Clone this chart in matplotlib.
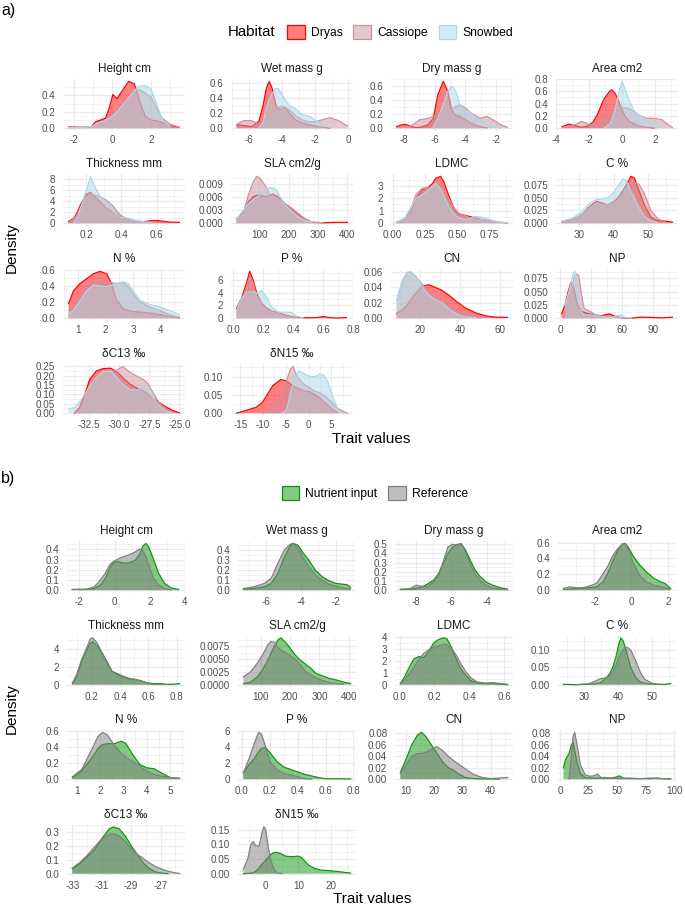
import numpy as np
import matplotlib
matplotlib.use('Agg')
import matplotlib.pyplot as plt
from matplotlib.patches import Patch
from matplotlib.colors import to_rgba

plt.rcParams['font.family'] = ['Liberation Sans', 'DejaVu Sans']

# ---------------- a) habitat densities ----------------
A_HEIGHT_X = [-2.27, -1.5, -1.1, -0.85, -0.6, -0.35, -0.15, 0.03, 0.25, 0.5, 0.85, 1.15, 1.4, 1.7, 2.0, 2.3, 2.6, 3.0, 3.49]
A_HEIGHT_DRYAS = [0.015, 0.01, 0.02, 0.08, 0.1, 0.12, 0.25, 0.41, 0.36, 0.45, 0.57, 0.54, 0.35, 0.15, 0.1, 0.09, 0.07, 0.03, 0.01]
A_HEIGHT_CASS = [0.01, 0.01, 0.02, 0.05, 0.07, 0.1, 0.12, 0.15, 0.2, 0.26, 0.36, 0.45, 0.47, 0.43, 0.38, 0.25, 0.12, 0.05, 0.01]
A_HEIGHT_SNOW = [0.005, 0.005, 0.02, 0.05, 0.07, 0.1, 0.12, 0.15, 0.2, 0.27, 0.37, 0.46, 0.51, 0.52, 0.48, 0.3, 0.1, 0.02, None]

A_WET_X = [-6.75, -6.3, -5.85, -5.4, -5.15, -4.95, -4.78, -4.6, -4.4, -4.25, -4.05, -3.8, -3.55, -3.2, -2.8, -2.4, -2.0, -1.6, -1.1, -0.6, -0.05]
A_WET_DRYAS = [0.045, 0.035, 0.02, 0.09, 0.3, 0.53, 0.62, 0.53, 0.33, 0.25, 0.25, 0.27, 0.2, 0.11, 0.07, 0.045, 0.03, 0.013, 0.004, None, None]
A_WET_CASS = [0.05, 0.1, 0.1, 0.05, 0.065, 0.1, 0.15, 0.19, 0.24, 0.27, 0.29, 0.28, 0.24, 0.17, 0.11, 0.085, 0.085, 0.11, 0.14, 0.1, 0.03]
A_WET_SNOW = [None, None, None, 0.0, 0.08, 0.26, 0.38, 0.46, 0.52, 0.53, 0.46, 0.37, 0.3, 0.26, 0.18, 0.16, 0.11, 0.045, 0.01, None, None]

A_DRY_X = [-8.5, -8.0, -7.64, -7.3, -7.0, -6.45, -6.1, -5.8, -5.45, -5.15, -4.9, -4.62, -4.35, -4.0, -3.7, -3.4, -3.0, -2.6, -2.2, -1.7, -1.25]
A_DRY_DRYAS = [0.024, 0.058, 0.034, 0.01, 0.01, 0.048, 0.14, 0.48, 0.67, 0.53, 0.26, 0.18, 0.17, 0.12, 0.08, 0.05, 0.02, 0.006, None, None, None]
A_DRY_CASS = [0.01, 0.015, 0.025, 0.07, 0.12, 0.14, 0.17, 0.19, 0.22, 0.25, 0.27, 0.31, 0.33, 0.29, 0.23, 0.19, 0.14, 0.17, 0.12, 0.05, 0.01]
A_DRY_SNOW = [None, None, None, None, None, None, 0.01, 0.14, 0.34, 0.53, 0.6, 0.53, 0.32, 0.24, 0.24, 0.17, 0.1, 0.05, 0.02, 0.005, None]

A_AREA_X = [-3.63, -3.23, -2.82, -2.45, -2.1, -1.75, -1.5, -1.1, -0.75, -0.6, -0.4, -0.17, 0.0, 0.2, 0.45, 0.75, 1.0, 1.45, 1.95, 2.4, 2.75, 3.06]
A_AREA_DRYAS = [0.027, 0.065, 0.04, 0.015, 0.03, 0.1, 0.22, 0.47, 0.6, 0.625, 0.56, 0.42, 0.3, 0.19, 0.11, 0.07, 0.04, 0.015, 0.004, None, None, None]
A_AREA_CASS = [0.01, 0.03, 0.06, 0.11, 0.07, 0.05, 0.07, 0.15, 0.23, 0.26, 0.29, 0.32, 0.33, 0.335, 0.32, 0.26, 0.22, 0.16, 0.16, 0.14, 0.065, 0.01]
A_AREA_SNOW = [None, None, None, None, None, None, None, 0.0, 0.06, 0.14, 0.33, 0.6, 0.76, 0.63, 0.44, 0.28, 0.22, 0.14, 0.05, 0.01, None, None]

A_THICK_X = [0.1, 0.13, 0.15, 0.17, 0.2, 0.225, 0.25, 0.28, 0.315, 0.35, 0.39, 0.44, 0.48, 0.53, 0.58, 0.615, 0.67, 0.73]
A_THICK_DRYAS = [0.3, 0.9, 2.0, 3.5, 5.2, 5.6, 4.8, 3.9, 2.7, 2.1, 1.2, 0.6, 0.3, 0.3, 0.5, 0.45, 0.2, 0.15]
A_THICK_CASS = [0.1, 0.8, 1.6, 3.0, 4.6, 5.3, 5.1, 4.8, 4.2, 3.2, 1.6, 0.6, 0.3, 0.15, 0.05, None, None, None]
A_THICK_SNOW = [None, 0.2, 1.0, 3.0, 5.8, 8.5, 6.6, 4.8, 3.9, 2.3, 1.1, 0.9, 0.55, 0.25, 0.08, None, None, None]

A_SLA_X = [23, 46, 63, 80, 91, 102, 113, 125, 136, 145, 159, 170, 187, 210, 232, 255, 280, 317, 362, 400]
A_SLA_DRYAS = [0.001, 0.0026, 0.0049, 0.0061, 0.0064, 0.0065, 0.0063, 0.0061, 0.0064, 0.0067, 0.0063, 0.0058, 0.0045, 0.0034, 0.0022, 0.001, 0.0002, 0.0001, 0.0002, 0.0002]
A_SLA_CASS = [0.0008, 0.0022, 0.0065, 0.0096, 0.0108, 0.0104, 0.0094, 0.0082, 0.0065, 0.006, 0.0057, 0.0052, 0.0045, 0.0034, 0.0021, 0.001, 0.0002, 0.0001, None, None]
A_SLA_SNOW = [0.001, 0.003, 0.0045, 0.0055, 0.006, 0.0066, 0.0073, 0.0078, 0.0082, 0.0081, 0.0077, 0.0062, 0.0043, 0.0027, 0.0014, 0.0006, 0.0002, None, None, None]

A_LDMC_X = [0.03, 0.093, 0.144, 0.18, 0.23, 0.278, 0.31, 0.333, 0.37, 0.396, 0.434, 0.47, 0.51, 0.56, 0.61, 0.64, 0.687, 0.75, 0.81, 0.89]
A_LDMC_DRYAS = [0.08, 0.35, 1.0, 2.0, 2.7, 2.9, 3.2, 3.6, 3.76, 3.35, 2.26, 1.3, 0.76, 0.63, 0.5, 0.42, 0.3, 0.17, 0.09, 0.03]
A_LDMC_CASS = [0.08, 0.35, 1.2, 2.3, 2.8, 2.86, 2.86, 2.95, 2.85, 2.6, 2.0, 1.3, 0.8, 0.6, 0.4, 0.35, 0.3, 0.2, 0.08, 0.03]
A_LDMC_SNOW = [0.08, 0.41, 1.3, 2.0, 2.26, 2.67, 3.0, 3.2, 2.8, 2.2, 1.4, 0.8, 0.45, 0.3, 0.41, 0.55, 0.5, 0.3, 0.14, 0.03]

A_C_X = [25, 27.9, 30.8, 33.1, 35, 36.5, 38.4, 40.2, 41.3, 42.8, 43.6, 45, 46, 47.4, 48.9, 50.8, 52.7, 55, 57]
A_C_DRYAS = [0.003, 0.006, 0.016, 0.033, 0.043, 0.04, 0.036, 0.043, 0.05, 0.065, 0.074, 0.092, 0.089, 0.063, 0.036, 0.012, 0.005, 0.004, 0.002]
A_C_CASS = [0.002, 0.005, 0.017, 0.029, 0.038, 0.037, 0.036, 0.041, 0.047, 0.06, 0.071, 0.078, 0.08, 0.076, 0.058, 0.025, 0.009, 0.002, None]
A_C_SNOW = [0.004, 0.009, 0.022, 0.04, 0.046, 0.048, 0.05, 0.062, 0.074, 0.087, 0.084, 0.063, 0.05, 0.03, 0.014, 0.004, 0.001, None, None]

A_N_X = [0.66, 0.84, 1.08, 1.32, 1.56, 1.8, 2.04, 2.22, 2.4, 2.64, 2.82, 3.0, 3.24, 3.6, 3.96, 4.32, 4.68]
A_N_DRYAS = [0.18, 0.34, 0.43, 0.49, 0.55, 0.58, 0.55, 0.43, 0.22, 0.12, 0.095, 0.083, 0.075, 0.066, 0.045, 0.02, 0.004]
A_N_CASS = [0.05, 0.12, 0.26, 0.38, 0.43, 0.45, 0.46, 0.44, 0.43, 0.44, 0.39, 0.3, 0.2, 0.14, 0.095, 0.045, 0.012]
A_N_SNOW = [0.05, 0.1, 0.22, 0.34, 0.41, 0.4, 0.39, 0.41, 0.43, 0.45, 0.43, 0.34, 0.22, 0.17, 0.14, 0.095, 0.045]

A_P_X = [0.022, 0.055, 0.089, 0.11, 0.133, 0.156, 0.19, 0.222, 0.256, 0.3, 0.344, 0.39, 0.42, 0.467, 0.51, 0.56, 0.6, 0.656, 0.7, 0.756]
A_P_DRYAS = [1.5, 3.1, 5.5, 7.3, 6.0, 4.0, 2.3, 1.6, 1.1, 0.85, 0.5, 0.25, 0.15, 0.08, 0.05, 0.1, 0.25, 0.05, 0.03, 0.1]
A_P_CASS = [1.2, 2.8, 4.9, 6.5, 5.5, 3.6, 2.1, 1.4, 1.0, 0.7, 0.35, 0.12, 0.05, None, None, None, None, None, None, None]
A_P_SNOW = [1.2, 3.1, 4.0, 4.1, 4.15, 3.95, 4.3, 3.35, 1.75, 0.95, 0.95, 0.9, 0.4, 0.05, None, None, None, None, None, None]

A_CN_X = [8.3, 11.2, 13.6, 15.3, 17.8, 21.2, 24.5, 27.9, 31.2, 34.5, 38.7, 42.9, 47.9, 52.9, 57.9, 63.8]
A_CN_DRYAS = [0.006, 0.011, 0.017, 0.024, 0.032, 0.042, 0.0435, 0.04, 0.036, 0.03, 0.021, 0.013, 0.007, 0.003, 0.0013, 0.001]
A_CN_CASS = [0.023, 0.048, 0.059, 0.06, 0.055, 0.044, 0.032, 0.026, 0.021, 0.015, 0.008, 0.0045, 0.002, 0.001, None, None]
A_CN_SNOW = [0.023, 0.049, 0.06, 0.061, 0.055, 0.041, 0.03, 0.024, 0.02, 0.012, 0.005, 0.0015, 0.0005, None, None, None]

A_NP_X = [1.6, 4.8, 8.0, 10.5, 12.8, 14.4, 16.0, 18.2, 20.8, 23.3, 28.8, 33.5, 40, 44.7, 48, 52.7, 59, 62.3, 68.7, 78, 89.5, 99, 108.6]
A_NP_DRYAS = [0.008, 0.024, 0.05, 0.067, 0.062, 0.048, 0.034, 0.02, 0.013, 0.011, 0.008, 0.006, 0.0045, 0.007, 0.008, 0.004, 0.001, 0.0005, 0.0, 0.002, 0.0013, 0.0006, 0.002]
A_NP_CASS = [None, 0.015, 0.035, 0.046, 0.069, 0.08, 0.083, 0.08, 0.046, 0.018, 0.013, 0.007, 0.004, 0.003, 0.0025, 0.002, 0.001, 0.0006, None, None, None, None, None]
A_NP_SNOW = [None, 0.024, 0.045, 0.065, 0.085, 0.088, 0.07, 0.04, 0.012, 0.006, 0.006, 0.005, 0.003, 0.002, 0.002, 0.003, 0.007, 0.002, 0.0, None, None, None, None]

A_C13_X = [-34.2, -33.7, -33.3, -32.86, -32.45, -31.9, -31.34, -30.7, -30.2, -29.7, -29.14, -28.6, -28.0, -27.6, -27.2, -26.7, -26.1, -25.6, -25.0]
A_C13_DRYAS = [None, 0.0, 0.03, 0.1, 0.18, 0.225, 0.238, 0.24, 0.22, 0.19, 0.157, 0.136, 0.12, 0.1, 0.08, 0.058, 0.033, 0.015, 0.002]
A_C13_CASS = [None, None, 0.0, 0.03, 0.1, 0.16, 0.2, 0.22, 0.23, 0.25, 0.22, 0.2, 0.18, 0.157, 0.11, 0.058, 0.023, 0.005, None]
A_C13_SNOW = [0.023, 0.03, 0.058, 0.1, 0.145, 0.19, 0.222, 0.225, 0.19, 0.154, 0.128, 0.122, 0.136, 0.12, 0.084, 0.04, 0.01, 0.002, None]

A_N15_X = [-15.8, -11.5, -10.1, -9.4, -7.9, -6.1, -5.1, -4.7, -4.0, -3.4, -2.9, -2.2, -1.1, 0.3, 1.4, 2.4, 3.4, 4.2, 5.3, 6.4, 7.4, 8.5]
A_N15_DRYAS = [0.0, 0.016, 0.03, 0.044, 0.075, 0.092, 0.089, 0.087, 0.08, 0.075, 0.071, 0.067, 0.062, 0.058, 0.05, 0.042, 0.03, 0.021, 0.009, 0.002, None, None]
A_N15_CASS = [None, None, 0.0, 0.003, 0.012, 0.044, 0.08, 0.095, 0.12, 0.128, 0.11, 0.095, 0.08, 0.068, 0.06, 0.056, 0.048, 0.04, 0.026, 0.013, 0.006, 0.0]
A_N15_SNOW = [None, None, None, None, None, 0.0, 0.005, 0.016, 0.055, 0.085, 0.103, 0.115, 0.109, 0.1, 0.1, 0.107, 0.103, 0.085, 0.044, 0.012, 0.0, None]

# ---------------- b) nutrient input densities ----------------
B_HEIGHT_X = [-2.4, -1.6, -1.16, -0.8, -0.53, -0.27, -0.09, 0.18, 0.44, 0.8, 1.16, 1.42, 1.6, 1.78, 1.96, 2.22, 2.5, 2.84, 3.2, 3.64]
B_HEIGHT_NUT = [0.007, 0.007, 0.017, 0.05, 0.117, 0.217, 0.267, 0.283, 0.267, 0.267, 0.293, 0.35, 0.433, 0.46, 0.417, 0.3, 0.167, 0.067, 0.023, 0.007]
B_HEIGHT_REF = [0.007, 0.01, 0.033, 0.1, 0.167, 0.25, 0.28, 0.305, 0.325, 0.345, 0.375, 0.405, 0.39, 0.33, 0.233, 0.117, 0.05, 0.017, 0.003, None]

B_WET_X = [-7.3, -6.68, -6.1, -5.7, -5.32, -4.93, -4.63, -4.44, -4.16, -3.86, -3.56, -3.17, -2.78, -2.4, -2.0, -1.6, -1.35, -1.15]
B_WET_NUT = [0.01, 0.017, 0.034, 0.068, 0.17, 0.34, 0.44, 0.47, 0.45, 0.37, 0.305, 0.2, 0.136, 0.095, 0.068, 0.06, 0.055, 0.025]
B_WET_REF = [0.017, 0.034, 0.068, 0.12, 0.27, 0.41, 0.46, 0.47, 0.42, 0.32, 0.24, 0.15, 0.1, 0.06, 0.04, 0.024, 0.015, 0.01]

B_DRY_X = [-8.86, -8.32, -7.96, -7.7, -7.34, -6.98, -6.71, -6.45, -6.18, -5.91, -5.64, -5.43, -5.2, -4.93, -4.66, -4.39, -4.04, -3.68, -3.23, -2.82]
B_DRY_NUT = [0.011, 0.011, 0.02, 0.03, 0.066, 0.11, 0.18, 0.29, 0.4, 0.47, 0.5, 0.505, 0.44, 0.33, 0.22, 0.153, 0.09, 0.055, 0.026, 0.011]
B_DRY_REF = [0.007, 0.018, 0.055, 0.044, 0.036, 0.09, 0.164, 0.31, 0.47, 0.5, 0.49, 0.51, 0.42, 0.29, 0.18, 0.11, 0.055, 0.026, 0.011, 0.004]

B_AREA_X = [-3.69, -3.35, -3.0, -2.66, -2.31, -1.88, -1.53, -1.28, -1.02, -0.76, -0.5, -0.33, -0.16, 0.1, 0.45, 0.8, 1.22, 1.57, 1.83, 2.14]
B_AREA_NUT = [0.009, 0.015, 0.021, 0.026, 0.03, 0.043, 0.107, 0.21, 0.36, 0.49, 0.58, 0.59, 0.54, 0.43, 0.32, 0.236, 0.15, 0.107, 0.086, 0.021]
B_AREA_REF = [0.021, 0.043, 0.03, 0.03, 0.05, 0.086, 0.21, 0.3, 0.43, 0.515, 0.58, 0.59, 0.515, 0.343, 0.19, 0.107, 0.064, 0.043, 0.03, 0.013]

B_THICK_X = [0.064, 0.094, 0.127, 0.16, 0.19, 0.207, 0.24, 0.275, 0.31, 0.343, 0.377, 0.41, 0.456, 0.5, 0.547, 0.592, 0.637, 0.68, 0.728, 0.773, 0.82]
B_THICK_NUT = [0.12, 0.9, 2.5, 3.7, 4.6, 4.75, 4.3, 3.5, 2.5, 1.5, 1.25, 1.0, 0.72, 0.6, 0.44, 0.2, 0.12, 0.12, 0.04, 0.04, 0.12]
B_THICK_REF = [0.2, 1.1, 2.7, 3.9, 5.1, 5.2, 4.6, 3.5, 2.3, 1.5, 1.1, 0.9, 0.64, 0.6, 0.44, 0.12, 0.04, 0.04, 0.01, None, None]

B_SLA_X = [41, 65, 88, 106, 124, 135, 147, 159, 168, 182, 200, 218, 235, 253, 271, 288, 312, 335, 359, 382, 406]
B_SLA_NUT = [0.0002, 0.0005, 0.0015, 0.0029, 0.0048, 0.0062, 0.0076, 0.0088, 0.0092, 0.0085, 0.0072, 0.0058, 0.0048, 0.004, 0.0032, 0.0022, 0.0017, 0.0012, 0.0009, 0.0005, 0.0002]
B_SLA_REF = [0.0015, 0.0025, 0.0042, 0.0058, 0.0078, 0.0085, 0.0083, 0.0073, 0.0068, 0.0064, 0.0057, 0.005, 0.0039, 0.0025, 0.0019, 0.0013, 0.0008, 0.0004, 0.0002, 0.0001, None]

B_LDMC_X = [0.004, 0.028, 0.056, 0.083, 0.11, 0.14, 0.167, 0.194, 0.222, 0.25, 0.27, 0.296, 0.324, 0.35, 0.38, 0.407, 0.444, 0.49, 0.537, 0.583, 0.62]
B_LDMC_NUT = [0.09, 0.66, 1.5, 2.2, 2.37, 2.3, 2.8, 3.5, 3.8, 3.95, 3.9, 3.2, 2.2, 1.37, 0.8, 0.37, 0.14, 0.09, 0.09, 0.03, 0.0]
B_LDMC_REF = [0.09, 0.43, 0.94, 1.5, 2.14, 2.66, 2.94, 3.14, 3.28, 3.37, 3.37, 3.1, 2.5, 1.8, 1.1, 0.6, 0.23, 0.14, 0.17, 0.09, 0.03]

B_C_X = [23.8, 27.5, 31.3, 33.2, 34.6, 36.0, 37.5, 38.4, 39.3, 40.1, 40.75, 41.5, 42.5, 43.6, 45.0, 46.4, 47.8, 49.7, 51.1, 53.5, 55.4]
B_C_NUT = [0.001, 0.0, 0.001, 0.003, 0.005, 0.015, 0.032, 0.051, 0.08, 0.115, 0.134, 0.124, 0.09, 0.051, 0.022, 0.008, 0.004, 0.002, 0.001, 0.001, 0.003]
B_C_REF = [None, 0.0, 0.003, 0.01, 0.017, 0.019, 0.024, 0.037, 0.056, 0.078, 0.09, 0.1, 0.107, 0.1, 0.071, 0.037, 0.015, 0.005, 0.002, 0.0, None]

B_N_X = [0.8, 1.2, 1.6, 1.9, 2.1, 2.3, 2.6, 2.9, 3.1, 3.4, 3.7, 4.0, 4.3, 4.6, 5.0, 5.4]
B_N_NUT = [0.02, 0.1, 0.25, 0.38, 0.43, 0.44, 0.44, 0.47, 0.44, 0.3, 0.18, 0.14, 0.13, 0.08, 0.02, 0.01]
B_N_REF = [0.03, 0.12, 0.35, 0.53, 0.58, 0.55, 0.42, 0.32, 0.27, 0.22, 0.16, 0.1, 0.06, 0.04, 0.02, 0.01]

B_P_X = [0.01, 0.05, 0.09, 0.12, 0.14, 0.17, 0.2, 0.25, 0.3, 0.35, 0.4, 0.45, 0.5, 0.55, 0.6, 0.7, 0.78]
B_P_NUT = [0.8, 1.8, 2.6, 3.4, 3.8, 3.9, 3.3, 2.2, 1.5, 1.2, 0.9, 0.6, 0.4, 0.2, 0.05, 0.05, 0.03]
B_P_REF = [0.8, 2.5, 4.5, 5.8, 5.6, 4.0, 2.2, 1.2, 0.7, 0.55, 0.3, 0.05, 0.0, None, None, None, None]

B_CN_X = [8, 10, 12, 14, 15.5, 17, 19, 21, 23, 25, 27, 29, 31, 34, 37, 40, 43, 46]
B_CN_NUT = [0.012, 0.035, 0.06, 0.077, 0.082, 0.075, 0.06, 0.045, 0.03, 0.02, 0.015, 0.008, 0.003, 0.001, 0.0005, 0.0005, 0.0, None]
B_CN_REF = [0.01, 0.025, 0.04, 0.045, 0.045, 0.047, 0.052, 0.057, 0.05, 0.04, 0.032, 0.025, 0.018, 0.008, 0.003, 0.001, 0.002, 0.003]

B_NP_X = [3, 5, 8, 10, 11.5, 13, 15, 18, 22, 26, 30, 33, 36, 40, 45, 50, 52, 55, 60, 70, 80, 85, 90, 97]
B_NP_NUT = [0.02, 0.035, 0.045, 0.06, 0.065, 0.05, 0.03, 0.01, 0.003, 0.002, 0.002, 0.002, 0.002, 0.002, 0.002, 0.004, 0.006, 0.002, 0.001, 0.001, 0.001, 0.002, 0.001, 0.001]
B_NP_REF = [None, None, 0.0, 0.04, 0.075, 0.082, 0.06, 0.025, 0.008, 0.005, 0.006, 0.009, 0.003, 0.003, 0.002, 0.001, 0.001, 0.001, 0.002, 0.001, 0.002, 0.001, 0.001, 0.0]

B_C13_X = [-33, -32.5, -32, -31.5, -31, -30.5, -30.2, -29.8, -29.4, -29, -28.6, -28.2, -27.8, -27.4, -27, -26.5, -26, -25.7]
B_C13_NUT = [0.035, 0.07, 0.12, 0.17, 0.25, 0.32, 0.335, 0.32, 0.27, 0.2, 0.14, 0.08, 0.04, 0.015, 0.005, 0.0, None, None]
B_C13_REF = [0.04, 0.08, 0.13, 0.19, 0.25, 0.28, 0.285, 0.27, 0.23, 0.18, 0.14, 0.11, 0.08, 0.055, 0.035, 0.018, 0.006, 0.002]

B_N15_X = [-6.8, -5.5, -4.5, -3.8, -3.0, -2.0, -1.0, -0.5, 0.0, 0.7, 1.5, 2.5, 3.5, 5, 6, 8, 10, 11, 13, 15, 17, 20, 23, 26]
B_N15_NUT = [0.0, 0.001, 0.002, 0.003, 0.008, 0.02, 0.035, 0.04, 0.045, 0.055, 0.065, 0.072, 0.073, 0.067, 0.06, 0.058, 0.06, 0.055, 0.03, 0.018, 0.012, 0.01, 0.006, 0.002]
B_N15_REF = [0.015, 0.05, 0.1, 0.11, 0.095, 0.095, 0.145, 0.16, 0.15, 0.1, 0.05, 0.015, 0.003, 0.0, None, None, None, None, None, None, None, None, None, None]

# ---------------- labels / ticks ----------------
HABITATS = ['Dryas', 'Cassiope', 'Snowbed']
HAB_COLORS = ['#FF0000', '#CD919E', '#ADD8E6']
TREATMENTS = ['Nutrient input', 'Reference']
TRT_COLORS = ['#0E920E', '#7F7F7F']

A_PANELS = [
    ('Height cm', A_HEIGHT_X, [A_HEIGHT_DRYAS, A_HEIGHT_CASS, A_HEIGHT_SNOW], [-2, 0, 2], [0, 0.2, 0.4]),
    ('Wet mass g', A_WET_X, [A_WET_DRYAS, A_WET_CASS, A_WET_SNOW], [-6, -4, -2, 0], [0, 0.2, 0.4, 0.6]),
    ('Dry mass g', A_DRY_X, [A_DRY_DRYAS, A_DRY_CASS, A_DRY_SNOW], [-8, -6, -4, -2], [0, 0.2, 0.4, 0.6]),
    ('Area cm2', A_AREA_X, [A_AREA_DRYAS, A_AREA_CASS, A_AREA_SNOW], [-4, -2, 0, 2], [0, 0.2, 0.4, 0.6, 0.8]),
    ('Thickness mm', A_THICK_X, [A_THICK_DRYAS, A_THICK_CASS, A_THICK_SNOW], [0.2, 0.4, 0.6], [0, 2, 4, 6, 8]),
    ('SLA cm2/g', A_SLA_X, [A_SLA_DRYAS, A_SLA_CASS, A_SLA_SNOW], [100, 200, 300, 400], [0, 0.003, 0.006, 0.009]),
    ('LDMC', A_LDMC_X, [A_LDMC_DRYAS, A_LDMC_CASS, A_LDMC_SNOW], [0, 0.25, 0.5, 0.75], [0, 1, 2, 3]),
    ('C %', A_C_X, [A_C_DRYAS, A_C_CASS, A_C_SNOW], [30, 40, 50], [0, 0.025, 0.05, 0.075]),
    ('N %', A_N_X, [A_N_DRYAS, A_N_CASS, A_N_SNOW], [1, 2, 3, 4], [0, 0.2, 0.4, 0.6]),
    ('P %', A_P_X, [A_P_DRYAS, A_P_CASS, A_P_SNOW], [0, 0.2, 0.4, 0.6, 0.8], [0, 2, 4, 6]),
    ('CN', A_CN_X, [A_CN_DRYAS, A_CN_CASS, A_CN_SNOW], [20, 40, 60], [0, 0.02, 0.04, 0.06]),
    ('NP', A_NP_X, [A_NP_DRYAS, A_NP_CASS, A_NP_SNOW], [0, 30, 60, 90], [0, 0.025, 0.05, 0.075]),
    ('δC13 ‰', A_C13_X, [A_C13_DRYAS, A_C13_CASS, A_C13_SNOW], [-32.5, -30, -27.5, -25], [0, 0.05, 0.1, 0.15, 0.2, 0.25]),
    ('δN15 ‰', A_N15_X, [A_N15_DRYAS, A_N15_CASS, A_N15_SNOW], [-15, -10, -5, 0, 5], [0, 0.05, 0.1]),
]

B_PANELS = [
    ('Height cm', B_HEIGHT_X, [B_HEIGHT_NUT, B_HEIGHT_REF], [-2, 0, 2, 4], [0, 0.1, 0.2, 0.3, 0.4]),
    ('Wet mass g', B_WET_X, [B_WET_NUT, B_WET_REF], [-6, -4, -2], [0, 0.1, 0.2, 0.3, 0.4]),
    ('Dry mass g', B_DRY_X, [B_DRY_NUT, B_DRY_REF], [-8, -6, -4], [0, 0.1, 0.2, 0.3, 0.4, 0.5]),
    ('Area cm2', B_AREA_X, [B_AREA_NUT, B_AREA_REF], [-2, 0, 2], [0, 0.2, 0.4, 0.6]),
    ('Thickness mm', B_THICK_X, [B_THICK_NUT, B_THICK_REF], [0.2, 0.4, 0.6, 0.8], [0, 2, 4]),
    ('SLA cm2/g', B_SLA_X, [B_SLA_NUT, B_SLA_REF], [100, 200, 300, 400], [0, 0.0025, 0.005, 0.0075]),
    ('LDMC', B_LDMC_X, [B_LDMC_NUT, B_LDMC_REF], [0, 0.2, 0.4, 0.6], [0, 1, 2, 3, 4]),
    ('C %', B_C_X, [B_C_NUT, B_C_REF], [30, 40, 50], [0, 0.05, 0.1]),
    ('N %', B_N_X, [B_N_NUT, B_N_REF], [1, 2, 3, 4, 5], [0, 0.2, 0.4, 0.6]),
    ('P %', B_P_X, [B_P_NUT, B_P_REF], [0, 0.2, 0.4, 0.6, 0.8], [0, 2, 4, 6]),
    ('CN', B_CN_X, [B_CN_NUT, B_CN_REF], [10, 20, 30, 40], [0, 0.02, 0.04, 0.06, 0.08]),
    ('NP', B_NP_X, [B_NP_NUT, B_NP_REF], [0, 25, 50, 75, 100], [0, 0.02, 0.04, 0.06, 0.08]),
    ('δC13 ‰', B_C13_X, [B_C13_NUT, B_C13_REF], [-33, -31, -29, -27], [0, 0.1, 0.2, 0.3]),
    ('δN15 ‰', B_N15_X, [B_N15_NUT, B_N15_REF], [0, 10, 20], [0, 0.05, 0.1, 0.15]),
]

W, H = 685, 908
fig = plt.figure(figsize=(W / 100, H / 100), dpi=100)
GRID = '#EBEBEB'


def fmt(vals):
    for d in range(6):
        if all(abs(round(v, d) - v) < 1e-9 for v in vals):
            break
    return [f'{v:.{d}f}' for v in vals]


def minor_of(ticks, lo, hi):
    step = ticks[1] - ticks[0]
    cand = np.arange(ticks[0] - step / 2, ticks[-1] + step, step)
    return [c for c in cand if lo <= c <= hi]


def draw_panel(rect, title, x, series, colors, xt, yt):
    left, top, w, h = rect
    ax = fig.add_axes([left / W, 1 - (top + h) / H, w / W, h / H])
    x = np.asarray(x, dtype=float)
    ymax = 0
    for i, (y, c) in enumerate(zip(series, colors)):
        y = np.array(y, dtype=float)
        m = ~np.isnan(y)
        ax.fill_between(x[m], 0, y[m], facecolor=c, alpha=0.5, linewidth=0, zorder=2 + 2 * i)
        ax.plot(x[m], y[m], color=c, lw=0.85, zorder=3 + 2 * i)
        ymax = max(ymax, np.nanmax(y))
    x0, x1 = x.min(), x.max()
    pad = 0.05 * (x1 - x0)
    ax.set_xlim(x0 - pad, x1 + pad)
    ax.set_ylim(-0.05 * ymax, 1.05 * ymax)
    lo, hi = ax.get_xlim()
    ax.set_xticks(xt)
    ax.set_xticklabels(fmt(xt))
    ax.set_xticks(minor_of(xt, lo, hi), minor=True)
    ax.set_yticks(yt)
    ax.set_yticklabels(fmt(yt))
    ax.set_yticks(minor_of(yt, -0.05 * ymax, 1.05 * ymax), minor=True)
    ax.grid(True, which='major', color=GRID, lw=0.9, zorder=0)
    ax.grid(True, which='minor', color=GRID, lw=0.45, zorder=0)
    ax.set_axisbelow(True)
    for s in ax.spines.values():
        s.set_visible(False)
    ax.tick_params(which='both', length=0, labelsize=7.1, labelcolor='#4D4D4D')
    ax.tick_params(axis='x', pad=3.5)
    ax.tick_params(axis='y', pad=5.5)
    ax.annotate(title, xy=(0.5, 1), xycoords='axes fraction', xytext=(0, 7),
                textcoords='offset points', ha='center', va='center', fontsize=8.5, color='#1A1A1A')
    return ax


A_LEFTS = [63, 231, 391, 556]
A_TOPS = [79, 174, 269, 364]
B_LEFTS = [67, 238, 395, 558]
B_TOPS = [541, 635.5, 730, 824.5]

for k, (title, x, ser, xt, yt) in enumerate(A_PANELS):
    r, c = divmod(k, 4)
    draw_panel((A_LEFTS[c], A_TOPS[r], 122, 51.5), title, x, ser, HAB_COLORS, xt, yt)

for k, (title, x, ser, xt, yt) in enumerate(B_PANELS):
    r, c = divmod(k, 4)
    draw_panel((B_LEFTS[c], B_TOPS[r], 118, 51.5), title, x, ser, TRT_COLORS, xt, yt)

# panel tags and axis titles
fig.text(1 / W, 1 - 11 / H, 'a)', fontsize=11.5, ha='left', va='center')
fig.text(1 / W, 1 - 478 / H, 'b)', fontsize=11.5, ha='left', va='center')
fig.text(12 / W, 1 - 248 / H, 'Density', rotation=90, fontsize=11, ha='center', va='center')
fig.text(12 / W, 1 - 709 / H, 'Density', rotation=90, fontsize=11, ha='center', va='center')
fig.text(371 / W, 1 - 439 / H, 'Trait values', fontsize=11, ha='center', va='center')
fig.text(372 / W, 1 - 899 / H, 'Trait values', fontsize=11, ha='center', va='center')

# legends
hab_handles = [Patch(facecolor=to_rgba(c, 0.5), edgecolor=c, lw=0.9, label=n) for n, c in zip(HABITATS, HAB_COLORS)]
fig.text(228 / W, 1 - 32 / H, 'Habitat', fontsize=10.8, ha='left', va='center')
fig.legend(handles=hab_handles, loc='center', bbox_to_anchor=(400 / W, 1 - 32 / H), ncol=3, frameon=False,
           fontsize=8.7, handlelength=1.45, handleheight=1.45, handletextpad=0.5, columnspacing=0.9,
           borderaxespad=0, borderpad=0)

trt_handles = [Patch(facecolor=to_rgba(c, 0.5), edgecolor=c, lw=0.9, label=n) for n, c in zip(TREATMENTS, TRT_COLORS)]
fig.legend(handles=trt_handles, loc='center', bbox_to_anchor=(375 / W, 1 - 493 / H), ncol=2, frameon=False,
           fontsize=8.7, handlelength=1.45, handleheight=1.45, handletextpad=0.5, columnspacing=0.9,
           borderaxespad=0, borderpad=0)

fig.savefig('out.png', dpi=100)
